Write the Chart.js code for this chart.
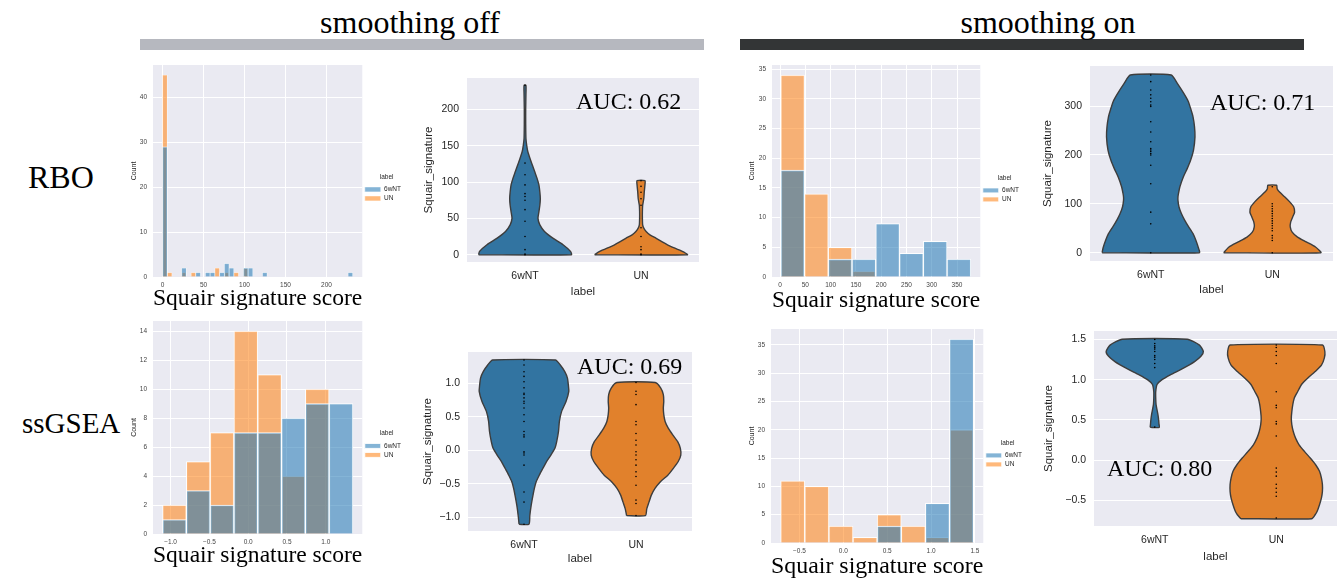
<!DOCTYPE html>
<html>
<head>
<meta charset="utf-8">
<title>Squair signature score</title>
<script src="https://cdn.jsdelivr.net/npm/chart.js"></script>
<style>
  body { margin: 0; width: 1341px; height: 579px; position: relative; overflow: hidden; background: #fff; }
  .serif { position: absolute; z-index: 2; font-family: "Liberation Serif", "Times New Roman", serif; color: #000; white-space: nowrap; }
  .head { top: 6px; font-size: 32px; line-height: 32px; transform: translateX(-50%); }
  .row { font-size: 32px; line-height: 32px; }
  .auc { font-size: 24px; line-height: 24px; }
  .band { position: absolute; top: 39px; height: 11px; width: 564px; }
  canvas { position: absolute; }
</style>
</head>
<body>
<div class="serif head" style="left:410px">smoothing off</div>
<div class="band" style="left:140px;background:#b6b8bf"></div>
<div class="serif head" style="left:1048px">smoothing on</div>
<div class="band" style="left:740px;background:#333536"></div>
<div class="serif row" style="left:28px;top:161px">RBO</div>
<div class="serif row" style="left:22px;top:407px;font-size:29px">ssGSEA</div>
<div class="serif auc" style="left:576px;top:89px">AUC: 0.62</div>
<div class="serif auc" style="left:1210px;top:90px">AUC: 0.71</div>
<div class="serif auc" style="left:577px;top:354px">AUC: 0.69</div>
<div class="serif auc" style="left:1107px;top:456px">AUC: 0.80</div>
<script>
// ---- data ----
const groups = ['6wNT', 'UN'];

// histograms: first bin edge, bin width, counts per bin
const rboOffBinStart = 0, rboOffBinWidth = 5.8;
const rboOffCount6wNT = [29,0,0,0,2, 0,0,1,0,1, 1,0,1,3,2, 0,0,2,2,0, 0,1,0,0,0, 0,0,0,0,0, 0,0,0,0,0, 0,0,0,0,1];
const rboOffCountUN   = [45,1,0,0,1, 0,1,0,0,0, 0,2,0,1,0, 1,0,2,0,0, 0,0,0,0,0, 0,0,0,0,0, 0,0,0,0,0, 0,0,0,0,0];

const rboOnBinStart = 1.3, rboOnBinWidth = 47;
const rboOnCount6wNT = [18, 0, 3, 3, 9, 4, 6, 3];
const rboOnCountUN   = [34, 14, 5, 1, 0, 0, 0, 0];

const gseaOffBinStart = -1.103, gseaOffBinWidth = 0.3066;
const gseaOffCount6wNT = [1, 3, 2, 7, 7, 8, 9, 9];
const gseaOffCountUN   = [2, 5, 7, 14, 11, 4, 10, 0];

const gseaOnBinStart = -0.714, gseaOnBinWidth = 0.2749;
const gseaOnCount6wNT = [0, 0, 0, 0, 3, 0, 7, 36];
const gseaOnCountUN   = [11, 10, 3, 1, 5, 3, 1, 20];

// tick values
const rboOffHistX = [0, 50, 100, 150, 200];
const rboOffHistY = [0, 10, 20, 30, 40];
const rboOnHistX = [0, 50, 100, 150, 200, 250, 300, 350];
const rboOnHistY = [0, 5, 10, 15, 20, 25, 30, 35];
const gseaOffHistX = [-1, -0.5, 0, 0.5, 1];
const gseaOffHistY = [0, 2, 4, 6, 8, 10, 12, 14];
const gseaOnHistX = [-0.5, 0, 0.5, 1, 1.5];
const gseaOnHistY = [0, 5, 10, 15, 20, 25, 30, 35];
const rboOffViolinY = [0, 50, 100, 150, 200];
const rboOnViolinY = [0, 100, 200, 300];
const gseaOffViolinY = [-1, -0.5, 0, 0.5, 1];
const gseaOnViolinY = [-0.5, 0, 0.5, 1, 1.5];

// violins: score levels, relative half width at each level, inner points
const rboOff6wNTVals = [0, 4.6, 13.7, 22.8, 32, 41, 50, 59, 68, 77, 86, 96, 105, 114, 123, 132, 142, 151, 160, 180, 200, 220, 233];
const rboOff6wNTHalf = [1, .98, .82, .6, .42, .32, .28, .3, .32, .33, .32, .3, .26, .21, .16, .11, .06, .035, .02, .015, .015, .02, .02];
const rboOff6wNTDots = [0, 1, 7, 25, 46, 62, 75, 80, 84, 96, 110, 126, 233];
const rboOffUNVals = [0, 4.6, 13.7, 22.8, 27, 32, 36.5, 41, 50, 59, 68, 77, 86, 96, 101.8];
const rboOffUNHalf = [1, .89, .57, .32, .2, .11, .06, .036, .03, .03, .036, .06, .07, .085, .085];
const rboOffUNDots = [0, 1, 7, 11, 25, 37, 68, 77, 86, 94, 101.8];

const rboOn6wNTVals = [0, 10, 25, 39, 53, 66, 80, 94, 107, 114, 121, 135, 155, 172, 189, 210, 237, 258, 278, 292, 310, 326, 346, 363.6];
const rboOn6wNTHalf = [1, .98, .93, .87, .78, .7, .63, .58, .56, .56, .57, .6, .67, .75, .82, .88, .91, .9, .87, .83, .77, .68, .55, .42];
const rboOn6wNTDots = [0, 59, 83, 141, 179, 200, 203, 207, 210, 213, 227, 247, 268, 299, 302, 309, 316, 323, 333, 350, 363.6];
const rboOnUNVals = [0, 11.6, 22, 32, 42, 53, 63, 73, 83, 94, 104, 114, 124, 131, 138];
const rboOnUNHalf = [1, .89, .7, .52, .41, .37, .38, .42, .46, .44, .36, .26, .15, .1, .09];
const rboOnUNDots = [0, 25, 30, 35, 45, 50, 55, 60, 65, 70, 75, 80, 85, 90, 95, 100, 135];

const gseaOff6wNTVals = [-1.1, -0.97, -0.82, -0.67, -0.57, -0.47, -0.37, -0.27, -0.17, -0.07, 0.03, 0.13, 0.28, 0.43, 0.58, 0.73, 0.876, 0.97, 1.075, 1.17, 1.27, 1.343];
const gseaOff6wNTHalf = [.11, .13, .16, .2, .23, .27, .34, .42, .5, .6, .69, .73, .77, .79, .84, .94, 1, .99, .97, .91, .81, .7];
const gseaOff6wNTDots = [-1.1, -0.77, -0.62, -0.22, -0.07, -0.04, -0.02, 0.2, 0.23, 0.28, 0.43, 0.53, 0.63, 0.7, 0.73, 0.78, 0.83, 0.85, 0.93, 1.02, 1.1, 1.17, 1.27, 1.343];
const gseaOffUNVals = [-0.97, -0.87, -0.77, -0.67, -0.57, -0.47, -0.37, -0.27, -0.17, -0.07, 0.03, 0.13, 0.23, 0.33, 0.43, 0.53, 0.63, 0.73, 0.83, 0.93, 1.01];
const gseaOffUNHalf = [.21, .24, .29, .34, .42, .54, .71, .83, .94, 1, .99, .93, .82, .72, .65, .62, .61, .62, .61, .55, .43];
const gseaOffUNDots = [-0.97, -0.79, -0.74, -0.52, -0.39, -0.32, -0.22, -0.14, -0.07, -0.02, 0.08, 0.15, 0.25, 0.38, 0.43, 0.68, 0.83, 0.88, 1.01];

const gseaOn6wNTVals = [0.406, 0.45, 0.5, 0.56, 0.625, 0.69, 0.77, 0.85, 0.94, 1.0, 1.06, 1.14, 1.225, 1.29, 1.35, 1.43, 1.503];
const gseaOn6wNTHalf = [.094, .087, .08, .067, .047, .027, .02, .02, .047, .15, .32, .58, .82, .95, 1, .92, .67];
const gseaOn6wNTDots = [0.41, 1.15, 1.2, 1.25, 1.28, 1.3, 1.35, 1.38, 1.4, 1.42, 1.45, 1.5];
const gseaOnUNVals = [-0.729, -0.68, -0.64, -0.555, -0.47, -0.39, -0.306, -0.224, -0.14, -0.058, 0.025, 0.108, 0.19, 0.27, 0.356, 0.44, 0.52, 0.6, 0.69, 0.77, 0.85, 0.94, 1.02, 1.1, 1.18, 1.27, 1.35, 1.43];
const gseaOnUNHalf = [.73, .8, .84, .89, .93, .95, .95, .93, .89, .81, .7, .58, .47, .4, .35, .32, .31, .32, .34, .37, .44, .52, .65, .8, .93, .99, 1, .95];
const gseaOnUNDots = [-0.72, -0.45, -0.4, -0.35, -0.3, -0.2, -0.15, -0.1, 0.3, 0.45, 0.48, 0.65, 0.68, 0.85, 1.2, 1.3, 1.35, 1.4, 1.43];

// ---- drawing ----
Chart.defaults.font.family = '"Liberation Sans", Arial, sans-serif';
const SERIF = '"Liberation Serif", "Times New Roman", serif';
const PAD_TOP = 16;
const LEG_W = 50;
const MAX_HALF = 0.4;
const HIST_BLUE = 'rgba(31,119,180,0.55)';
const HIST_ORANGE = 'rgba(255,127,14,0.55)';
const VIOLIN_BLUE = '#3274a1';
const VIOLIN_ORANGE = '#e1812c';

// grey panel behind each plot area (seaborn darkgrid)
const plotBg = {
  id: 'plotBg',
  beforeDraw(chart) {
    const a = chart.chartArea, ctx = chart.ctx;
    ctx.save();
    ctx.fillStyle = '#eaeaf2';
    ctx.fillRect(a.left, a.top, a.right - a.left, a.bottom - a.top);
    ctx.restore();
  }
};

const fmt = dec => v => dec ? v.toFixed(dec).replace('-', '\u2212') : String(v);
const useTicks = values => axis => { axis.ticks = values.map(value => ({value})); };

// plot boxes: l/t/r/b = plot area, yW = y axis width, xH = x axis height
function makeCanvas(b, extraRight) {
  const c = document.createElement('canvas');
  c.width = b.yW + (b.r - b.l) + extraRight;
  c.height = PAD_TOP + (b.b - b.t) + b.xH;
  c.style.left = (b.l - b.yW) + 'px';
  c.style.top = (b.t - PAD_TOP) + 'px';
  document.body.appendChild(c);
  return c;
}

function histChart(b, h) {
  const centers = h.blue.map((_, i) => h.start + h.width * (i + 0.5));
  const bars = (label, counts, color) => ({
    label,
    data: counts.map((y, i) => ({x: centers[i], y})),
    backgroundColor: color,
    borderColor: 'rgba(255,255,255,0.9)',
    borderWidth: h.edge,
    grouped: false,
    barPercentage: 1,
    categoryPercentage: 1
  });
  return new Chart(makeCanvas(b, LEG_W + 2), {
    type: 'bar',
    data: {datasets: [bars(groups[0], h.blue, HIST_BLUE), bars(groups[1], h.orange, HIST_ORANGE)]},
    options: {
      responsive: false, animation: false, events: [],
      layout: {padding: {top: PAD_TOP, right: 2}},
      plugins: {
        tooltip: {enabled: false},
        legend: {
          position: 'right',
          title: {display: true, text: 'label', font: {size: 6.5}, color: '#262626', padding: {top: 0, bottom: 2}},
          labels: {boxWidth: 16, boxHeight: 5, padding: 2.5, font: {size: 6.5}, color: '#262626'}
        }
      },
      scales: {
        x: {
          type: 'linear', min: h.xMin, max: h.xMax, offset: false,
          grid: {color: '#fff', offset: false, drawTicks: false}, border: {display: false},
          afterBuildTicks: useTicks(h.xTicks), afterFit: s => { s.height = b.xH; },
          ticks: {font: {size: 6.5}, color: '#444', padding: 4.5, callback: fmt(h.dec)},
          title: {display: true, text: 'Squair signature score', font: {family: SERIF, size: 24}, color: '#000', padding: 0}
        },
        y: {
          type: 'linear', min: 0, max: h.yMax,
          grid: {color: '#fff', drawTicks: false}, border: {display: false},
          afterBuildTicks: useTicks(h.yTicks), afterFit: s => { s.width = b.yW; },
          ticks: {font: {size: 6.5}, color: '#444', padding: 6},
          title: {display: true, text: 'Count', font: {size: 7}, color: '#262626', padding: 0}
        }
      }
    },
    plugins: [plotBg]
  });
}

function violinShape(center, vals, half, color) {
  const left = vals.map((y, i) => ({x: center - MAX_HALF * half[i], y}));
  const right = vals.map((y, i) => ({x: center + MAX_HALF * half[i], y})).reverse();
  return {
    data: left.concat(right, [left[0]]),
    showLine: true, fill: 'shape', tension: 0.2,
    backgroundColor: color, borderColor: '#3d3d3d', borderWidth: 1.4,
    pointRadius: 0, order: 2
  };
}

function violinDots(center, vals) {
  return {
    data: vals.map(y => ({x: center, y})),
    showLine: false, pointRadius: 0.8, pointBorderWidth: 0,
    pointBackgroundColor: '#000', order: 1
  };
}

function violinChart(b, v) {
  return new Chart(makeCanvas(b, 1), {
    type: 'scatter',
    data: {datasets: [
      violinDots(0, v.dotsA), violinDots(1, v.dotsB),
      violinShape(0, v.valsA, v.halfA, VIOLIN_BLUE),
      violinShape(1, v.valsB, v.halfB, VIOLIN_ORANGE)
    ]},
    options: {
      responsive: false, animation: false, events: [],
      layout: {padding: {top: PAD_TOP, right: 1}},
      plugins: {legend: {display: false}, tooltip: {enabled: false}},
      scales: {
        x: {
          type: 'linear', min: -0.5, max: 1.5, offset: false,
          grid: {display: false, drawTicks: false}, border: {display: false},
          afterBuildTicks: useTicks([0, 1]), afterFit: s => { s.height = b.xH; },
          ticks: {font: {size: 10.5}, color: '#262626', padding: 8, callback: (val, i) => groups[i]},
          title: {display: true, text: 'label', font: {size: 11.5}, color: '#262626', padding: 0}
        },
        y: {
          type: 'linear', min: v.yMin, max: v.yMax,
          grid: {color: '#fff', drawTicks: false}, border: {display: false},
          afterBuildTicks: useTicks(v.yTicks), afterFit: s => { s.width = b.yW; },
          ticks: {font: {size: 10.5}, color: '#262626', padding: 8, callback: fmt(v.dec)},
          title: {display: true, text: 'Squair_signature', font: {size: 11.5}, color: '#262626', padding: 0}
        }
      }
    },
    plugins: [plotBg]
  });
}

// RBO row
histChart({l: 153, t: 65, r: 361, b: 277, yW: 23, xH: 36}, {
  start: rboOffBinStart, width: rboOffBinWidth, blue: rboOffCount6wNT, orange: rboOffCountUN,
  xMin: -11.6, xMax: 243.6, yMax: 47.25, xTicks: rboOffHistX, yTicks: rboOffHistY, dec: 0, edge: 0.6
});
violinChart({l: 467, t: 78, r: 702, b: 262, yW: 45, xH: 37}, {
  valsA: rboOff6wNTVals, halfA: rboOff6wNTHalf, dotsA: rboOff6wNTDots,
  valsB: rboOffUNVals, halfB: rboOffUNHalf, dotsB: rboOffUNDots,
  yMin: -10, yMax: 243, yTicks: rboOffViolinY, dec: 0
});
histChart({l: 772, t: 65, r: 979, b: 277, yW: 24, xH: 38}, {
  start: rboOnBinStart, width: rboOnBinWidth, blue: rboOnCount6wNT, orange: rboOnCountUN,
  xMin: -16, xMax: 396, yMax: 35.7, xTicks: rboOnHistX, yTicks: rboOnHistY, dec: 0, edge: 1
});
violinChart({l: 1090, t: 66, r: 1336, b: 261, yW: 49, xH: 36}, {
  valsA: rboOn6wNTVals, halfA: rboOn6wNTHalf, dotsA: rboOn6wNTDots,
  valsB: rboOnUNVals, halfB: rboOnUNHalf, dotsB: rboOnUNDots,
  yMin: -17, yMax: 382, yTicks: rboOnViolinY, dec: 0
});

// ssGSEA row
histChart({l: 153, t: 321, r: 361, b: 534, yW: 23, xH: 36}, {
  start: gseaOffBinStart, width: gseaOffBinWidth, blue: gseaOffCount6wNT, orange: gseaOffCountUN,
  xMin: -1.226, xMax: 1.47, yMax: 14.7, xTicks: gseaOffHistX, yTicks: gseaOffHistY, dec: 1, edge: 1
});
violinChart({l: 468, t: 352, r: 695, b: 531, yW: 47, xH: 35}, {
  valsA: gseaOff6wNTVals, halfA: gseaOff6wNTHalf, dotsA: gseaOff6wNTDots,
  valsB: gseaOffUNVals, halfB: gseaOffUNHalf, dotsB: gseaOffUNDots,
  yMin: -1.2, yMax: 1.463, yTicks: gseaOffViolinY, dec: 1
});
histChart({l: 771, t: 329, r: 982, b: 543, yW: 23, xH: 38}, {
  start: gseaOnBinStart, width: gseaOnBinWidth, blue: gseaOnCount6wNT, orange: gseaOnCountUN,
  xMin: -0.824, xMax: 1.595, yMax: 37.8, xTicks: gseaOnHistX, yTicks: gseaOnHistY, dec: 1, edge: 1
});
violinChart({l: 1094, t: 331, r: 1340, b: 526, yW: 52, xH: 38}, {
  valsA: gseaOn6wNTVals, halfA: gseaOn6wNTHalf, dotsA: gseaOn6wNTDots,
  valsB: gseaOnUNVals, halfB: gseaOnUNHalf, dotsB: gseaOnUNDots,
  yMin: -0.82, yMax: 1.605, yTicks: gseaOnViolinY, dec: 1
});
</script>
</body>
</html>
